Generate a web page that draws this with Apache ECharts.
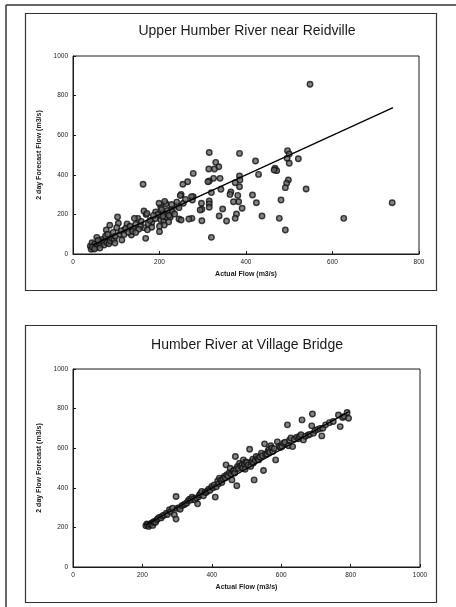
<!DOCTYPE html>
<html>
<head>
<meta charset="utf-8">
<script src="https://cdn.jsdelivr.net/npm/echarts@6/dist/echarts.min.js"></script>
<style>html,body{margin:0;padding:0;background:#fff;}#c{width:456px;height:607px;}</style>
</head>
<body>
<div id="c"></div>
<script>
// ---- Data ----
const topTitle = 'Upper Humber River near Reidville';
const bottomTitle = 'Humber River at Village Bridge';
const xAxisName = 'Actual Flow (m3/s)';
const topYName = '2 day Forecast Flow (m3/s)';
const bottomYName = '2 day Flow Forecast (m3/s)';

const topActual = [548,738,626,539,521,496,500,495,500,498,494,491,491,481,477,467,471,465,422,429,424,437,415,385,385,386,385,381,391,383,378,375,375,371,365,363,355,346,338,342,340,337,330,327,315,314,325,315,312,320,315,315,315,320,297,298,294,298,278,278,276,274,275,268,265,254,250,248,255,260,245,250,241,245,227,221,215,212,203,199,200,203,210,216,208,214,225,221,211,200,191,190,182,174,169,164,171,162,168,164,156,150,142,140,135,129,125,119,113,105,103,101,93,85,77,88,81,74,67,55,63,59,52,46,40,42,48,44,50,55,60,65,70,72,78,83,86,90,95,98,108,112,118,122,128,132,138,145,152,158,145,97,62,45,50,58,75,80,208,218,222,230,205,196,186,178,235,240,228,182,172,200];
const topForecast = [857,259,180,328,481,522,505,483,458,374,357,335,121,273,180,433,421,424,470,402,259,192,298,508,394,374,340,296,231,264,202,180,360,264,313,301,167,227,192,327,382,441,463,429,513,429,382,369,365,310,268,253,236,84,256,226,222,168,407,290,273,290,180,177,365,352,301,295,256,276,177,172,244,234,226,209,254,266,236,256,195,172,167,184,209,205,185,162,146,113,212,178,158,152,200,217,205,352,79,133,141,180,180,128,96,128,152,121,71,155,187,133,109,145,121,79,74,71,74,84,62,45,34,29,40,24,45,57,50,38,55,48,60,45,58,52,66,80,72,90,100,118,98,130,110,140,115,150,125,165,108,55,30,35,25,68,90,100,190,220,195,215,225,200,195,170,202,262,250,135,122,140];
const topFitX = [45, 740];
const topFitY = [45, 739];

const bottomActual = [210,213,215,218,221,224,227,230,232,234,238,242,245,250,254,259,263,269,272,278,282,287,292,297,297,300,305,309,314,319,323,328,332,336,340,343,347,352,356,359,362,365,368,371,376,380,384,388,391,395,400,404,407,410,413,417,420,422,426,429,432,436,439,441,443,447,451,453,456,458,461,463,466,468,470,472,474,477,480,483,487,489,491,494,496,498,501,505,509,512,515,518,520,522,525,528,532,535,539,543,546,549,552,555,559,562,564,567,570,573,576,580,584,589,594,598,602,607,611,618,621,624,628,633,638,645,650,653,657,660,664,670,678,683,688,690,693,698,705,712,717,720,728,739,750,765,770,777,782,790,794];
const bottomForecast = [208,218,212,205,213,218,222,210,225,230,226,239,245,252,248,259,262,272,265,289,280,297,264,242,356,296,300,292,310,314,318,323,335,343,338,353,345,339,348,319,355,365,372,382,360,378,376,384,393,388,407,400,415,353,405,435,420,449,438,427,446,457,450,516,466,460,477,499,470,440,482,487,475,558,495,410,508,498,524,510,516,500,541,520,494,530,528,515,595,508,532,545,525,440,538,558,548,541,555,575,562,487,622,570,571,585,595,580,612,600,583,598,541,632,610,604,608,625,630,718,612,640,652,608,645,655,648,659,668,743,642,660,667,670,713,773,676,690,695,700,662,701,718,729,735,768,709,755,760,780,751];
const bottomFitX = [210, 795];
const bottomFitY = [212, 785];

const topXTicks = {min: 0, max: 800, interval: 200};
const bottomXTicks = {min: 0, max: 1000, interval: 200};
const yTicks = {min: 0, max: 1000, interval: 200};

// ---- Build ----
const zip = (a, b) => a.map((v, i) => [v, b[i]]);
const FONT = 'Liberation Sans, Arial, sans-serif';
const INK = '#1a1a1a';
const plain = v => String(v);

function xAxis(gi, t) {
  return {
    type: 'value', gridIndex: gi, min: t.min, max: t.max, interval: t.interval,
    name: xAxisName, nameLocation: 'middle', nameGap: 17,
    nameTextStyle: {fontFamily: FONT, fontSize: 7, fontWeight: 'bold', color: INK},
    axisLine: {show: true, onZero: false, lineStyle: {color: INK, width: 1}},
    axisTick: {show: true, inside: true, length: 3, lineStyle: {color: INK}},
    axisLabel: {fontFamily: FONT, fontSize: 6.5, color: INK, margin: 5, formatter: plain},
    splitLine: {show: false}
  };
}
function yAxis(gi, name) {
  return {
    type: 'value', gridIndex: gi, min: yTicks.min, max: yTicks.max, interval: yTicks.interval,
    name: name, nameLocation: 'middle', nameGap: 19, nameRotate: 90,
    nameTextStyle: {fontFamily: FONT, fontSize: 7, fontWeight: 'bold', color: INK},
    axisLine: {show: true, onZero: false, lineStyle: {color: INK, width: 1}},
    axisTick: {show: true, inside: true, length: 3, lineStyle: {color: INK}},
    axisLabel: {fontFamily: FONT, fontSize: 6.5, color: INK, margin: 5, formatter: plain},
    splitLine: {show: false}
  };
}
const markerStyle = {color: '#666', borderColor: '#111', borderWidth: 1.4};

const chart = echarts.init(document.getElementById('c'), null, {renderer: 'canvas'});
chart.setOption({
  backgroundColor: '#fff',
  animation: false,
  title: [
    {text: topTitle, left: 247, top: 24, textAlign: 'center', padding: 0,
     textStyle: {fontFamily: FONT, fontSize: 14, fontWeight: 'normal', color: INK}},
    {text: bottomTitle, left: 247, top: 338, textAlign: 'center', padding: 0,
     textStyle: {fontFamily: FONT, fontSize: 14, fontWeight: 'normal', color: INK}}
  ],
  grid: [
    {left: 73, top: 56, width: 346, height: 198, show: true, borderColor: INK, borderWidth: 1, backgroundColor: 'transparent'},
    {left: 73, top: 369, width: 347, height: 198, show: true, borderColor: INK, borderWidth: 1, backgroundColor: 'transparent'}
  ],
  xAxis: [xAxis(0, topXTicks), xAxis(1, bottomXTicks)],
  yAxis: [yAxis(0, topYName), yAxis(1, bottomYName)],
  graphic: [
    {type: 'line', shape: {x1: 6, y1: 5, x2: 456, y2: 5}, style: {stroke: '#333', lineWidth: 1.5}, silent: true},
    {type: 'line', shape: {x1: 6, y1: 5, x2: 6, y2: 607}, style: {stroke: '#333', lineWidth: 1.5}, silent: true},
    {type: 'rect', shape: {x: 25.5, y: 13.5, width: 411, height: 277}, style: {fill: 'none', stroke: '#333', lineWidth: 1.2}, silent: true, z: -1},
    {type: 'rect', shape: {x: 25.5, y: 325.5, width: 411, height: 277}, style: {fill: 'none', stroke: '#333', lineWidth: 1.2}, silent: true, z: -1}
  ],
  series: [
    {type: 'scatter', xAxisIndex: 0, yAxisIndex: 0, symbol: 'circle', symbolSize: 5.5, itemStyle: markerStyle, data: zip(topActual, topForecast)},
    {type: 'line', xAxisIndex: 0, yAxisIndex: 0, showSymbol: false, lineStyle: {color: '#000', width: 1.3}, data: zip(topFitX, topFitY)},
    {type: 'scatter', xAxisIndex: 1, yAxisIndex: 1, symbol: 'circle', symbolSize: 5.5, itemStyle: markerStyle, data: zip(bottomActual, bottomForecast)},
    {type: 'line', xAxisIndex: 1, yAxisIndex: 1, showSymbol: false, lineStyle: {color: '#000', width: 1.3}, data: zip(bottomFitX, bottomFitY)}
  ]
});
</script>
</body>
</html>
